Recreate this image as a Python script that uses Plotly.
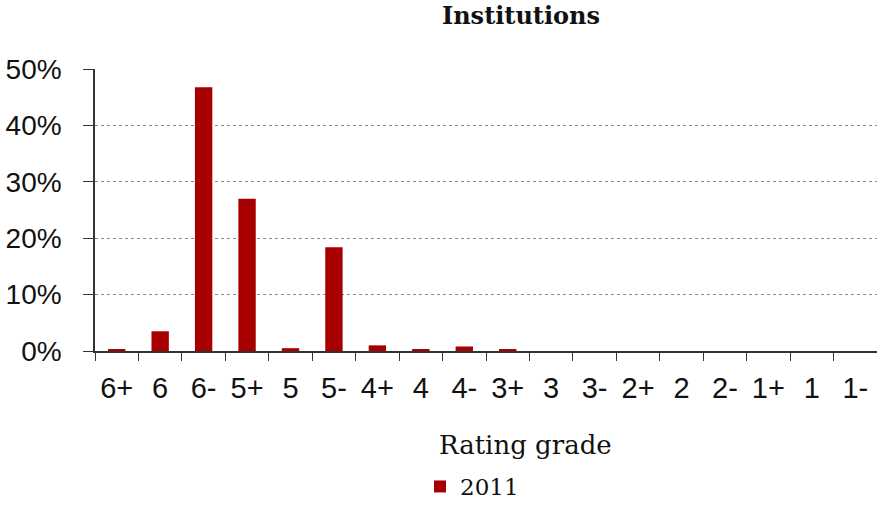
import plotly.graph_objects as go

categories = ["6+", "6", "6-", "5+", "5", "5-", "4+", "4", "4-", "3+", "3", "3-", "2+", "2", "2-", "1+", "1", "1-"]
values_2011 = [0.3, 3.5, 46.8, 27.0, 0.5, 18.4, 1.0, 0.3, 0.8, 0.3, 0, 0, 0, 0, 0, 0, 0, 0]
y_ticks = [0, 10, 20, 30, 40, 50]
y_tick_labels = ["0%", "10%", "20%", "30%", "40%", "50%"]

L, R, T, B = 95, 0, 69, 153
W, H = 877, 508
pw = W - L - R
ph = H - T - B
y0 = H - B  # pixel row of 0%

fig = go.Figure()
fig.add_trace(go.Bar(
    x=categories, y=values_2011, name="2011",
    marker=dict(color="#A80000", line=dict(width=0)),
))

fig.update_layout(
    width=W, height=H,
    margin=dict(l=L, r=R, t=T, b=B, pad=0),
    paper_bgcolor="white", plot_bgcolor="white",
    bargap=0.6,
    showlegend=True,
    title=dict(text="<b>Institutions</b>", x=521 / W, xanchor="center", xref="container",
               y=1 - 16 / H, yanchor="middle", yref="container",
               font=dict(family="DejaVu Serif", size=24, color="#111")),
    legend=dict(orientation="h", x=(472 - L) / pw, xanchor="center",
                y=(y0 - 493) / ph, yanchor="middle",
                font=dict(family="DejaVu Serif", size=23, color="#111"),
                itemwidth=30),
    annotations=[dict(text="Rating grade", x=(525 - L) / pw, xref="paper", xanchor="center",
                      y=(y0 - 450) / ph, yref="paper", yanchor="middle", showarrow=False,
                      font=dict(family="DejaVu Serif", size=26, color="#111"))],
)

fig.update_xaxes(
    type="category", showline=True, linecolor="#333", linewidth=1.5,
    ticks="outside", ticklen=8, tickcolor="#333", tickwidth=1.2, tickson="boundaries",
    tickfont=dict(family="Liberation Sans", size=29, color="#111"),
    ticklabelstandoff=10,
    showgrid=False, range=[-0.5, len(categories) - 0.5], automargin=False,
)
fig.update_yaxes(
    range=[0, 50.05], tickvals=y_ticks, ticktext=y_tick_labels,
    showline=True, linecolor="#333", linewidth=1.5,
    ticks="outside", ticklen=10, tickcolor="#333", tickwidth=1.2,
    tickfont=dict(family="Liberation Sans", size=28, color="#111"),
    ticklabelstandoff=16,
    showgrid=True, gridcolor="#888", griddash="dot", gridwidth=1,
    zeroline=False, automargin=False,
)

css_fix = (
    "document.documentElement.style.margin='0';"
    "document.documentElement.style.overflow='hidden';"
    "document.documentElement.style.height='508px';"
    "document.body.style.margin='0';"
    "document.body.style.overflow='hidden';"
    "document.body.style.height='508px';"
)
fig.write_html("out.html", config={"displayModeBar": False}, post_script=css_fix)
